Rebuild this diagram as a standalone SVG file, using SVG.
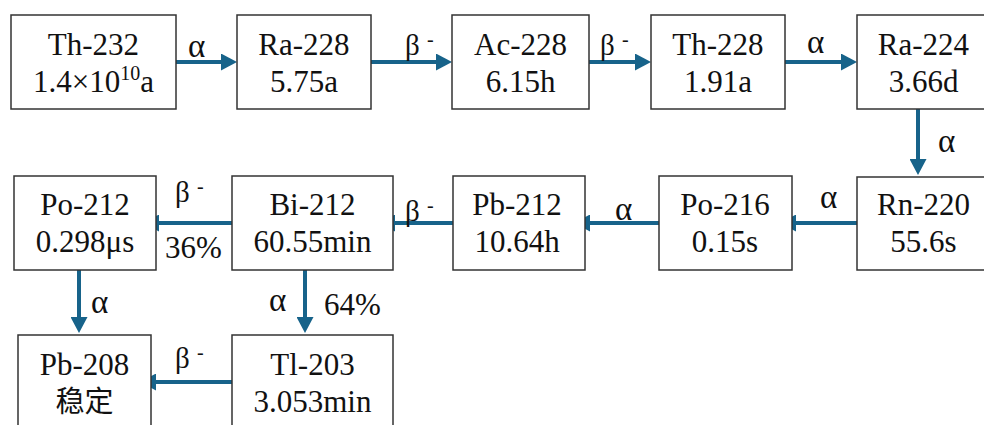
<svg xmlns="http://www.w3.org/2000/svg" width="984" height="425" viewBox="0 0 984 425">
<style>
.box{fill:#fff;stroke:#333;stroke-width:1.5}
.t{font-family:'Liberation Serif','Times New Roman',serif;font-size:31px;fill:#111;text-anchor:middle}
.lb{font-family:'Liberation Serif','Times New Roman',serif;font-size:29px;fill:#111}
.al{font-family:'Liberation Serif','Times New Roman',serif;font-size:33px;fill:#111}
.pc{font-family:'Liberation Serif','Times New Roman',serif;font-size:31px;fill:#111}
.cj{font-family:'Noto Sans CJK SC',sans-serif;font-size:29px;fill:#111;text-anchor:middle}
.ar{stroke:#17638a;stroke-width:4;fill:none}
</style>
<defs>
<marker id="ah" markerUnits="userSpaceOnUse" markerWidth="16" markerHeight="17" refX="2" refY="8.5" orient="auto">
<path d="M0,0 L16,8.5 L0,17 z" fill="#17638a"/>
</marker>
</defs>
<rect width="984" height="425" fill="#fff"/>
<g id="connectors">
<line class="ar" x1="161" y1="62" x2="223" y2="62" marker-end="url(#ah)"/>
<line class="ar" x1="359" y1="62" x2="438" y2="62" marker-end="url(#ah)"/>
<line class="ar" x1="577" y1="62" x2="637" y2="62" marker-end="url(#ah)"/>
<line class="ar" x1="773" y1="62" x2="843" y2="62" marker-end="url(#ah)"/>
<line class="ar" x1="918" y1="109" x2="918" y2="161" marker-end="url(#ah)"/>
<line class="ar" x1="857" y1="223" x2="794" y2="223" marker-end="url(#ah)"/>
<line class="ar" x1="659" y1="223" x2="588" y2="223" marker-end="url(#ah)"/>
<line class="ar" x1="453" y1="223" x2="393" y2="223" marker-end="url(#ah)"/>
<line class="ar" x1="232" y1="223" x2="157" y2="223" marker-end="url(#ah)"/>
<line class="ar" x1="79" y1="270" x2="79" y2="319" marker-end="url(#ah)"/>
<line class="ar" x1="305" y1="270" x2="305" y2="319" marker-end="url(#ah)"/>
<line class="ar" x1="232" y1="382" x2="154" y2="382" marker-end="url(#ah)"/>
<text class="al" x="188" y="57">α</text>
<text class="lb" x="405" y="55">β <tspan font-size="20" dy="-9">-</tspan></text>
<text class="lb" x="600" y="55">β <tspan font-size="20" dy="-9">-</tspan></text>
<text class="al" x="807" y="53">α</text>
<text class="al" x="938" y="152">α</text>
<text class="al" x="820" y="208">α</text>
<text class="al" x="615" y="220">α</text>
<text class="lb" x="405" y="221">β <tspan font-size="20" dy="-9">-</tspan></text>
<text class="lb" x="175" y="202">β <tspan font-size="20" dy="-9">-</tspan></text>
<text class="pc" x="165" y="258">36%</text>
<text class="al" x="91" y="313">α</text>
<text class="al" x="269" y="311">α</text>
<text class="pc" x="324" y="315">64%</text>
<text class="lb" x="175" y="368">β <tspan font-size="20" dy="-9">-</tspan></text>
</g>
<g id="th232"><rect class="box" x="11" y="15" width="165" height="94"/><text class="t" x="93.5" y="55">Th-232</text><text class="t" x="93.5" y="92">1.4×10<tspan font-size="20" dy="-12">10</tspan><tspan dy="12">a</tspan></text></g>
<g id="ra228"><rect class="box" x="237" y="15" width="134" height="94"/><text class="t" x="304" y="55">Ra-228</text><text class="t" x="304" y="92">5.75a</text></g>
<g id="ac228"><rect class="box" x="452" y="15" width="137" height="94"/><text class="t" x="520.5" y="55">Ac-228</text><text class="t" x="520.5" y="92">6.15h</text></g>
<g id="th228"><rect class="box" x="651" y="15" width="134" height="94"/><text class="t" x="718" y="55">Th-228</text><text class="t" x="718" y="92">1.91a</text></g>
<g id="ra224"><rect class="box" x="857" y="15" width="140" height="94"/><text class="t" x="923.5" y="55">Ra-224</text><text class="t" x="923.5" y="92">3.66d</text></g>
<g id="rn220"><rect class="box" x="857" y="177" width="140" height="93"/><text class="t" x="923.5" y="215">Rn-220</text><text class="t" x="923.5" y="252">55.6s</text></g>
<g id="po216"><rect class="box" x="659" y="176" width="133" height="94"/><text class="t" x="725" y="215">Po-216</text><text class="t" x="725" y="252">0.15s</text></g>
<g id="pb212"><rect class="box" x="453" y="176" width="132" height="94"/><text class="t" x="517" y="215">Pb-212</text><text class="t" x="517" y="252">10.64h</text></g>
<g id="bi212"><rect class="box" x="232" y="176" width="161" height="94"/><text class="t" x="312.5" y="215">Bi-212</text><text class="t" x="312.5" y="252">60.55min</text></g>
<g id="po212"><rect class="box" x="14" y="176" width="142" height="94"/><text class="t" x="85" y="215">Po-212</text><text class="t" x="85" y="252">0.298μs</text></g>
<g id="pb208"><rect class="box" x="18" y="335" width="133" height="100"/><text class="t" x="84.5" y="375">Pb-208</text><text class="cj" x="84.5" y="412">稳定</text></g>
<g id="tl203"><rect class="box" x="232" y="335" width="161" height="100"/><text class="t" x="312.5" y="375">Tl-203</text><text class="t" x="312.5" y="412">3.053min</text></g>
</svg>
